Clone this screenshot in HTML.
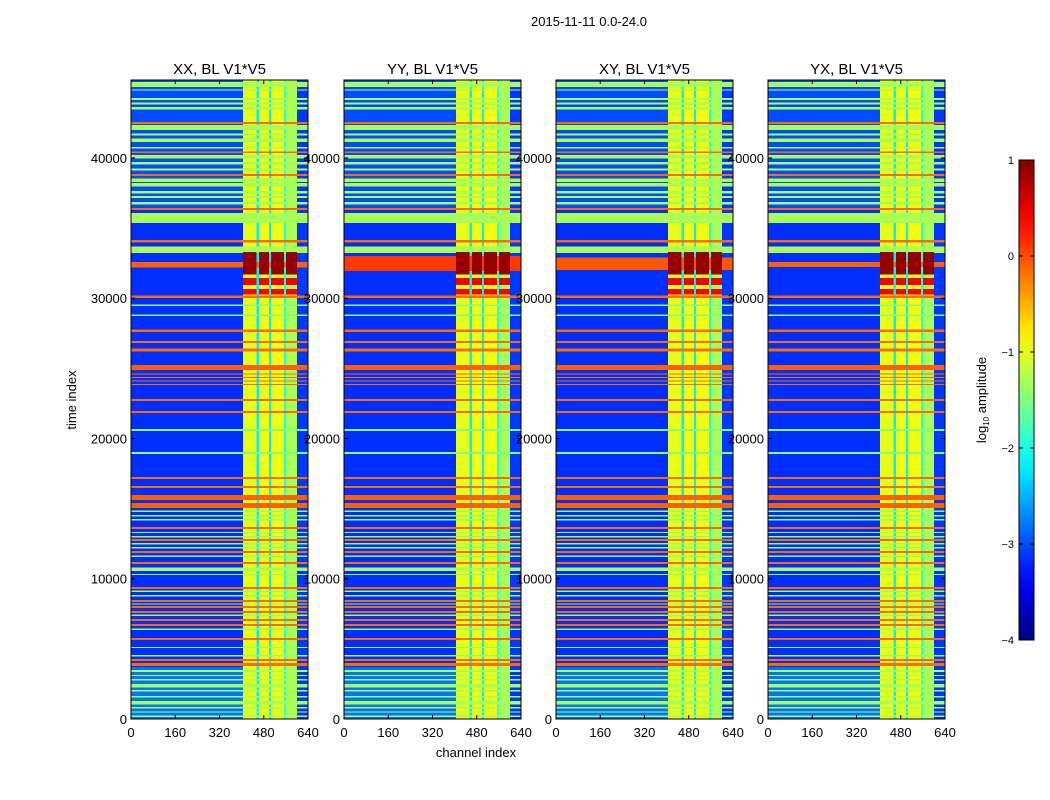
<!DOCTYPE html>
<html><head><meta charset="utf-8"><style>
html,body{margin:0;padding:0;background:#fff;}
svg{display:block;font-family:"Liberation Sans",sans-serif;}
</style></head><body>
<svg id="fig" width="1050" height="800" viewBox="0 0 1050 800" xmlns="http://www.w3.org/2000/svg">
<rect width="1050" height="800" fill="#fff"/>
<text x="589" y="26" font-size="13" text-anchor="middle">2015-11-11 0.0-24.0</text>
<text x="0" y="0" font-size="13" text-anchor="middle" transform="translate(76,400) rotate(-90)">time index</text>
<text x="476" y="757" font-size="13" text-anchor="middle">channel index</text>
<g id="panels"></g>
<g id="cbar"></g>
</svg>
<script>
// ---- data ----
const panelTitles = ["XX, BL V1*V5","YY, BL V1*V5","XY, BL V1*V5","YX, BL V1*V5"];
const xTicks = [0,160,320,480,640];
const yTicks = [0,10000,20000,30000,40000];
const cbarTicks = [1,0,-1,-2,-3,-4];
const timeMax = 45560, chanMax = 640;
// background regions (time)
const regionStart = [0, 3700, 36300];
const regionEnd   = [3700, 36300, 45560];
const regionLevel = [-2.8, -3.15, -3.0];
// vertical channel bands
const chanStart = [405, 454, 462, 499, 507, 553, 560, 600];
const chanEnd   = [454, 462, 499, 507, 553, 560, 600, 640];
const chanLevel = [-1.0, -2.2, -0.95, -2.2, -0.95, -2.0, -1.3, -3.1];
// horizontal full-width rows
const rowStart = [45060,44800,44130,43800,43450,42420,42000,41600,41150,40680,40350,39980,39550,39100,38720,38300,37950,37450,37150,36700,36280,35370,33980,33210,32230,
 30000,29450,28750,27580,26800,26220,24880,24550,24300,24050,23800,22680,21820,20540,18900,
 17100,16460,15610,15040,14750,14450,14150,13550,13250,12950,12690,12450,12150,11830,11550,11050,10550,10250,9270,9050,8750,8340,8150,7920,7560,7350,6990,6630,6350,5630,5050,4450,4140,3780,3350,3050,2750,2250,1950,1550,1050,750,450,150];
const rowEnd   = [45420,44900,44280,43950,43650,42580,42350,41750,41400,40800,40450,40230,39700,39250,38860,38550,38200,37650,37300,36850,36440,36080,34160,33680,32590,
 30180,29550,28850,27760,26960,26400,25240,24650,24400,24150,23900,22820,21960,20660,19020,
 17260,16620,15970,15400,14850,14550,14250,13700,13350,13050,12830,12550,12250,11970,11650,11190,10800,10350,9410,9150,8850,8480,8250,8060,7700,7450,7130,6770,6450,5770,5150,4550,4280,3980,3500,3150,2850,2500,2050,1650,1300,850,550,250];
const rowLevel = [-1.3,-1.3,-1.3,-1.3,-1.3,-0.15,-1.3,-1.3,-1.3,-1.3,-0.15,-1.3,-1.3,-1.3,-0.15,-1.3,-1.3,-1.3,-1.3,-1.3,-0.15,-1.3,-0.15,-1.3,-0.1,
 -0.15,-1.5,-1.5,-0.15,-0.15,-0.15,-0.1,-0.15,-0.15,-0.15,-0.15,-0.15,-0.15,-1.5,-1.5,
 -0.15,-0.15,-0.1,-0.1,-1.4,-1.4,-1.4,-0.15,-1.4,-1.4,-0.15,-1.4,-1.4,-0.15,-1.4,-0.15,-1.3,-1.4,-0.15,-1.4,-1.4,-0.15,-1.4,-0.15,-0.15,-1.4,-0.15,-0.15,-1.4,-0.15,-1.4,-1.4,-0.15,-0.15,-1.3,-1.3,-1.3,-1.3,-1.3,-1.3,-1.3,-1.3,-1.3,-1.3];
// red blocks inside bright channel bands
const blockChanStart = [405, 462, 507, 560];
const blockChanEnd   = [454, 499, 553, 600];
const blockStart = [31700, 30950, 30250];
const blockEnd   = [33300, 31450, 30650];
const blockLevel = [0.9, 0.45, 0.4];
// extra wide band per panel (around 32500)
const wideStart = [32200, 31950, 32000, 32250];
const wideEnd   = [32600, 33000, 32900, 32600];
const wideLevel = [-0.1, 0.1, -0.05, -0.1];

// ---- layout ----
const panelLeft = [131, 344, 556, 768];
const panelW = 177, plotTop = 80, plotBottom = 719;
function jet(v){
  let t=(v+4)/5; t=Math.max(0,Math.min(1,t));
  const c=x=>Math.round(255*Math.max(0,Math.min(1,x)));
  return `rgb(${c(1.5-Math.abs(4*t-3))},${c(1.5-Math.abs(4*t-2))},${c(1.5-Math.abs(4*t-1))})`;
}
const NS="http://www.w3.org/2000/svg";
function mk(tag,attrs,parent){const e=document.createElementNS(NS,tag);for(const k in attrs)e.setAttribute(k,attrs[k]);parent.appendChild(e);return e;}
const panels=document.getElementById('panels');
const yPix=t=>plotBottom-(t/timeMax)*(plotBottom-plotTop);

panelTitles.forEach((title,p)=>{
  const L=panelLeft[p];
  const xPix=c=>L+(c/chanMax)*panelW;
  const g=mk('g',{'shape-rendering':'crispEdges'},panels);
  
  
  const cell=(c0,c1,t0,t1,v,name)=>{
    const y0=yPix(t1),y1=yPix(t0);
    const r=mk('rect',{x:xPix(c0),y:y0,width:xPix(c1)-xPix(c0),height:Math.max(1,y1-y0),fill:jet(v)},g);
    
    
  };
  regionStart.forEach((s,i)=>cell(0,chanMax,s,regionEnd[i],regionLevel[i],'background-region'));
  chanStart.forEach((s,i)=>cell(s,chanEnd[i],0,timeMax,chanLevel[i],'channel-band'));
  rowStart.forEach((s,i)=>cell(0,chanMax,s,rowEnd[i],rowLevel[i],'time-row'));
  cell(0,chanMax,wideStart[p],wideEnd[p],wideLevel[p],'wide-band');
  blockStart.forEach((s,i)=>blockChanStart.forEach((cs,j)=>cell(cs,blockChanEnd[j],s,blockEnd[i],blockLevel[i],'red-block')));
  const fr=mk('rect',{x:L,y:plotTop,width:panelW,height:plotBottom-plotTop,fill:'none',stroke:'#000','stroke-width':1},panels);
  
  
  const tt=mk('text',{x:L+panelW/2,y:74,'font-size':15,'text-anchor':'middle'},panels);
  tt.textContent=title;
  
  
  xTicks.forEach(v=>{
    const x=xPix(v);
    mk('line',{x1:x,y1:plotBottom,x2:x,y2:plotBottom-4,stroke:'#000'},panels);
    mk('line',{x1:x,y1:plotTop,x2:x,y2:plotTop+4,stroke:'#000'},panels);
    const t=mk('text',{x:x,y:737,'font-size':13,'text-anchor':'middle'},panels);
    t.textContent=v;
    
    
  });
  yTicks.forEach(v=>{
    const y=yPix(v);
    mk('line',{x1:L,y1:y,x2:L+4,y2:y,stroke:'#000'},panels);
    mk('line',{x1:L+panelW,y1:y,x2:L+panelW-4,y2:y,stroke:'#000'},panels);
    const t=mk('text',{x:L-4,y:y+5,'font-size':13,'text-anchor':'end'},panels);
    t.textContent=v;
    
    
  });
});

// colorbar
const cb=document.getElementById('cbar');
const cbX=1019,cbW=15,cbTop=160,cbBot=640;
const cbY=v=>cbBot-(v+4)/5*(cbBot-cbTop);
const defs=mk('defs',{},cb);
const grad=mk('linearGradient',{id:'jetg',x1:0,y1:1,x2:0,y2:0},defs);
for(let i=0;i<=20;i++){mk('stop',{offset:i/20,'stop-color':jet(-4+5*i/20)},grad);}
const bar=mk('rect',{x:cbX,y:cbTop,width:cbW,height:cbBot-cbTop,fill:'url(#jetg)',stroke:'#000'},cb);


cbarTicks.forEach(v=>{
  const y=cbY(v);
  mk('line',{x1:cbX,y1:y,x2:cbX+4,y2:y,stroke:'#000'},cb);
  mk('line',{x1:cbX+cbW,y1:y,x2:cbX+cbW-4,y2:y,stroke:'#000'},cb);
  const t=mk('text',{x:1014,y:y+4,'font-size':11,'text-anchor':'end'},cb);
  t.textContent=v<0?'\u2212'+(-v):String(v);
  
  
});
const cl=mk('text',{x:0,y:0,'font-size':13,'text-anchor':'middle',transform:'translate(986,400) rotate(-90)'},cb);
cl.innerHTML='log<tspan font-size="8" dy="3">10</tspan><tspan dy="-3"> amplitude</tspan>';


</script>
</body></html>
